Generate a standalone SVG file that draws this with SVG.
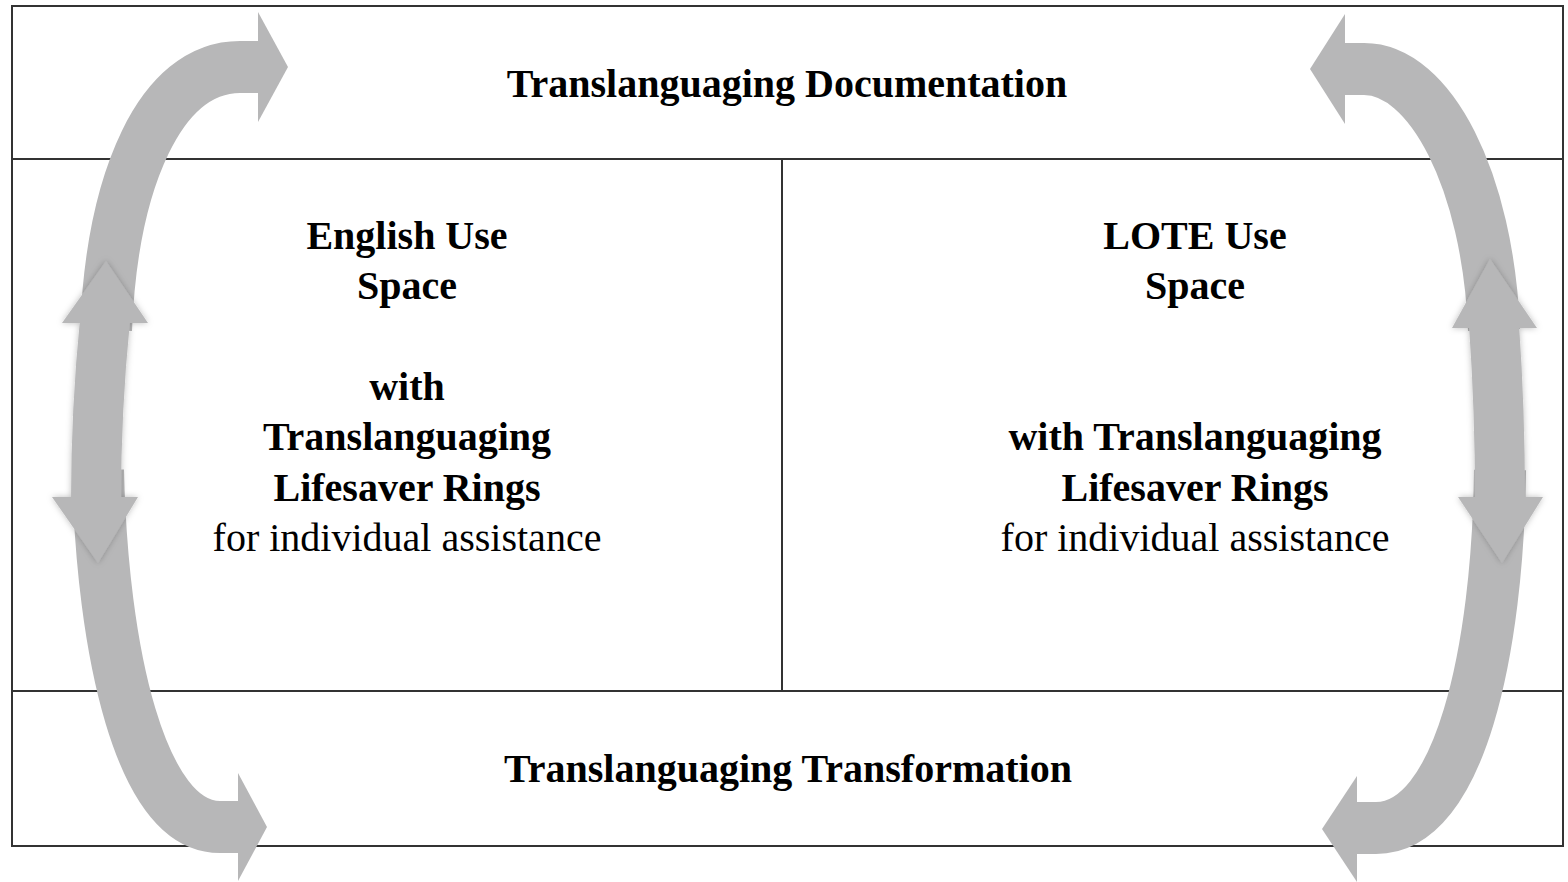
<svg xmlns="http://www.w3.org/2000/svg" width="1568" height="882" viewBox="0 0 1568 882">
  <style>
    .frame { fill: none; stroke: #333; stroke-width: 2; }
    .rule { stroke: #333; stroke-width: 2; }
    .shaft { fill: none; stroke: #b7b7b8; stroke-linecap: butt; }
    .head { fill: #b7b7b8; }
    .t { font-family: "Liberation Serif", "Times New Roman", serif; font-size: 40px; fill: #000; text-anchor: middle; }
    .b { font-weight: bold; }
  </style>
  <defs>
    <filter id="soft" x="-20%" y="-20%" width="140%" height="140%">
      <feDropShadow dx="0" dy="0" stdDeviation="3" flood-color="#000" flood-opacity="0.25"/>
    </filter>
  </defs>

  <!-- outer frame and section rules -->
  <g id="frame">
    <rect class="frame" x="12" y="6" width="1551" height="840"/>
    <line class="rule" x1="12" y1="159" x2="1563" y2="159"/>
    <line class="rule" x1="12" y1="691" x2="1563" y2="691"/>
    <line class="rule" x1="782" y1="159" x2="782" y2="691"/>
  </g>

  <!-- sections -->
  <g id="documentation">
    <text class="t b" x="787" y="97">Translanguaging Documentation</text>
  </g>
  <g id="english-space">
    <text class="t b" x="407" y="249">English Use</text>
    <text class="t b" x="407" y="299">Space</text>
    <text class="t b" x="407" y="400">with</text>
    <text class="t b" x="407" y="450">Translanguaging</text>
    <text class="t b" x="407" y="501">Lifesaver Rings</text>
    <text class="t" x="407" y="551">for individual assistance</text>
  </g>
  <g id="lote-space">
    <text class="t b" x="1195" y="249">LOTE Use</text>
    <text class="t b" x="1195" y="299">Space</text>
    <text class="t b" x="1195" y="450">with Translanguaging</text>
    <text class="t b" x="1195" y="501">Lifesaver Rings</text>
    <text class="t" x="1195" y="551">for individual assistance</text>
  </g>
  <g id="transformation">
    <text class="t b" x="788" y="782">Translanguaging Transformation</text>
  </g>

  <!-- curved cycle arrows -->
  <g id="connectors">
    <!-- left side -->
    <path class="shaft" stroke-width="52" d="M106 330 C112 180 160 67 240 67 L259 67"/>
    <polygon class="head" points="258,12 288,67 258,122"/>
    <path class="shaft" stroke-width="52" d="M98 470 C102 650 140 827 220 827 L239 827"/>
    <polygon class="head" points="238,773 267,827 238,881"/>
    <!-- right side -->
    <path class="shaft" stroke-width="52" d="M1494 330 C1488 180 1430 69 1364 69 L1344 69"/>
    <polygon class="head" points="1345,14 1310,69 1345,124"/>
    <path class="shaft" stroke-width="52" d="M1500 470 C1498 650 1460 828 1376 828 L1356 828"/>
    <polygon class="head" points="1357,776 1322,829 1357,882"/>

    <!-- vertical two-way arrows -->
    <g filter="url(#soft)">
      <path class="shaft" stroke-width="50" d="M105 320 Q96 410 96 500"/>
      <polygon class="head" points="62,323 148,323 106,261"/>
      <polygon class="head" points="52,497 138,497 98,563"/>
    </g>
    <g filter="url(#soft)">
      <path class="shaft" stroke-width="50" d="M1494 325 Q1500 410 1500 500"/>
      <polygon class="head" points="1452,328 1537,328 1490,259"/>
      <polygon class="head" points="1458,497 1543,497 1502,563"/>
    </g>
  </g>
</svg>
